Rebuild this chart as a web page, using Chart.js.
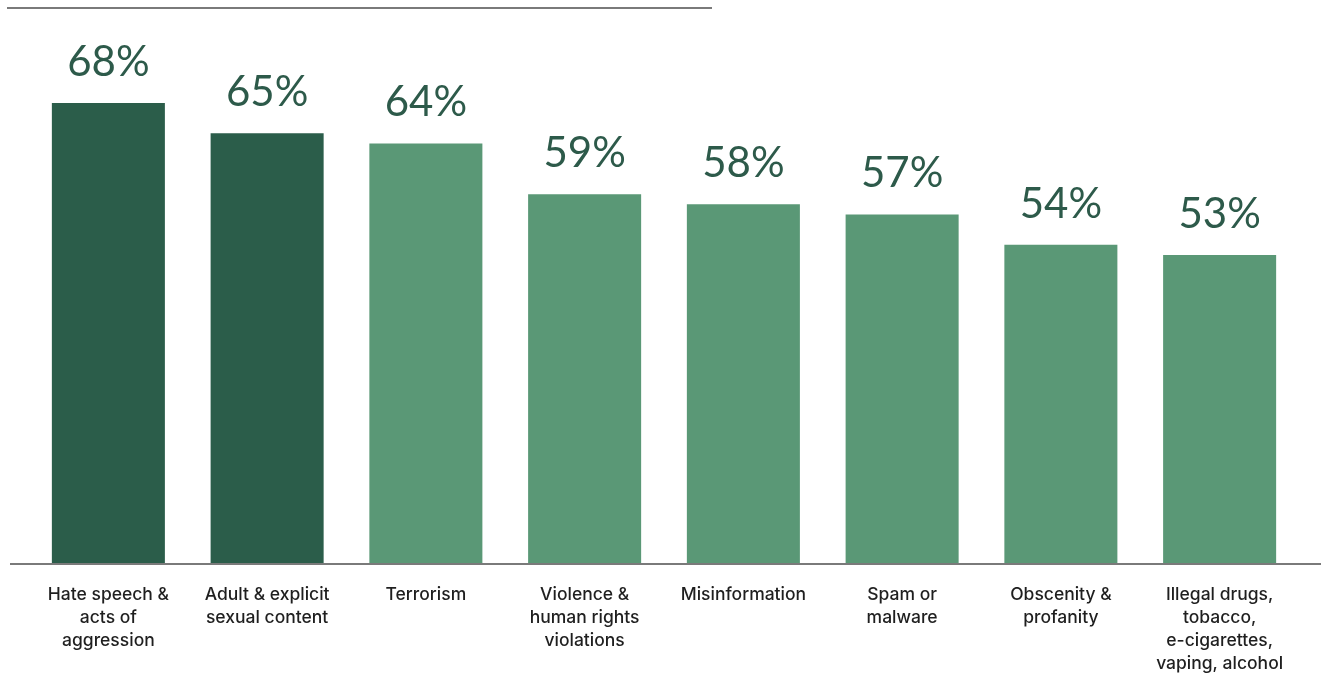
<!DOCTYPE html>
<html>
<head>
<meta charset="utf-8">
<script src="https://cdn.jsdelivr.net/npm/chart.js@4/dist/chart.umd.min.js"></script>
<style>
  html, body { margin: 0; padding: 0; background: #ffffff; }
  #wrap { position: relative; width: 1325px; height: 673px; }
  #topline { position: absolute; left: 7px; top: 7px; width: 705px; height: 2px; background: #7a7a7a; }
  canvas { position: absolute; left: 0; top: 0; }
</style>
</head>
<body>
<div id="wrap">
  <div id="topline"></div>
  <canvas id="c" width="1325" height="673"></canvas>
</div>
<script>
const categories = [
  ["Hate speech &", "acts of", "aggression"],
  ["Adult & explicit", "sexual content"],
  ["Terrorism"],
  ["Violence &", "human rights", "violations"],
  ["Misinformation"],
  ["Spam or", "malware"],
  ["Obscenity &", "profanity"],
  ["Illegal drugs,", "tobacco,", "e-cigarettes,", "vaping, alcohol"]
];
const values = [68, 65, 64, 59, 58, 57, 54, 53];
const valueLabels = ["68%", "65%", "64%", "59%", "58%", "57%", "54%", "53%"];
const darkGreen = "#2b5d4a";
const lightGreen = "#5a9876";
const barColors = values.map((v, i) => i < 2 ? darkGreen : lightGreen);

const valueLabelPlugin = {
  id: 'valueLabels',
  afterDatasetsDraw(chart) {
    const ctx = chart.ctx;
    const meta = chart.getDatasetMeta(0);
    ctx.save();
    ctx.font = '400 42px Lato, "Open Sans", sans-serif';
    ctx.fillStyle = '#2d5a4a';
    ctx.textAlign = 'center';
    ctx.textBaseline = 'alphabetic';
    meta.data.forEach((bar, i) => {
      ctx.fillText(valueLabels[i], bar.x, bar.y - 27);
    });
    ctx.restore();
  }
};

const baselinePlugin = {
  id: 'baseline',
  afterDatasetsDraw(chart) {
    const ctx = chart.ctx;
    const y = chart.scales.y.getPixelForValue(chart.scales.y.min);
    ctx.save();
    ctx.strokeStyle = '#7a7a7a';
    ctx.lineWidth = 2;
    ctx.beginPath();
    ctx.moveTo(chart.chartArea.left - 19, y + 1);
    ctx.lineTo(chart.chartArea.right + 22, y + 1);
    ctx.stroke();
    ctx.restore();
  }
};

new Chart(document.getElementById('c'), {
  type: 'bar',
  data: {
    labels: categories,
    datasets: [{
      data: values,
      backgroundColor: barColors,
      borderWidth: 0,
      barPercentage: 0.712,
      categoryPercentage: 1.0
    }]
  },
  options: {
    responsive: false,
    animation: false,
    devicePixelRatio: 1,
    layout: { padding: { left: 29, right: 26, top: 30, bottom: 0 } },
    plugins: { legend: { display: false }, tooltip: { enabled: false }, title: { display: false } },
    scales: {
      x: {
        grid: { display: false, drawTicks: false },
        border: { display: false },
        ticks: {
          color: '#1f1f1f',
          font: { family: 'Inter, "Open Sans", sans-serif', size: 17.5, weight: 500, lineHeight: '23px' },
          padding: 20,
          maxRotation: 0,
          autoSkip: false
        },
        afterFit(scale) { scale.height = 110; }
      },
      y: {
        display: false,
        min: 22.6,
        max: 75.2
      }
    }
  },
  plugins: [valueLabelPlugin, baselinePlugin]
});
</script>
</body>
</html>
